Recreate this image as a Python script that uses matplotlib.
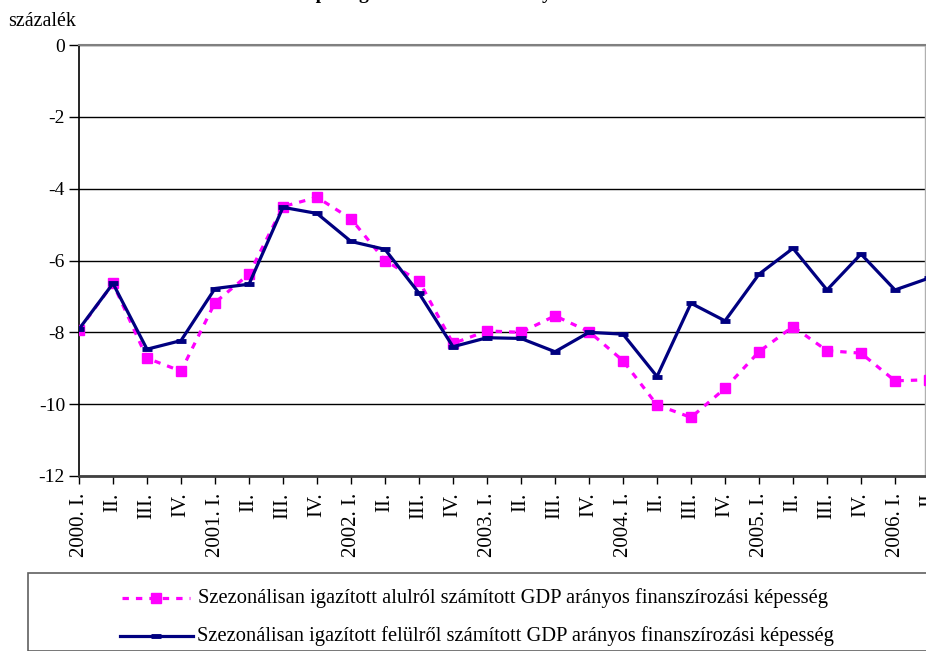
import matplotlib
matplotlib.use("Agg")
import matplotlib.pyplot as plt
from matplotlib.lines import Line2D
from matplotlib.patches import Rectangle

categories = ["2000. I.", "II.", "III.", "IV.",
              "2001. I.", "II.", "III.", "IV.",
              "2002. I.", "II.", "III.", "IV.",
              "2003. I.", "II.", "III.", "IV.",
              "2004. I.", "II.", "III.", "IV.",
              "2005. I.", "II.", "III.", "IV.",
              "2006. I.", "II."]

alulrol = [-7.93, -6.64, -8.72, -9.08, -7.17, -6.38, -4.50, -4.24,
           -4.84, -6.00, -6.57, -8.31, -7.96, -8.00, -7.54, -7.98,
           -8.79, -10.02, -10.37, -9.56, -8.54, -7.84, -8.51, -8.58,
           -9.35, -9.32]

felulrol = [-7.91, -6.64, -8.47, -8.23, -6.78, -6.66, -4.52, -4.69,
            -5.47, -5.69, -6.91, -8.40, -8.15, -8.17, -8.54, -8.00,
            -8.05, -9.23, -7.19, -7.68, -6.38, -5.66, -6.82, -5.82,
            -6.82, -6.49]

y_ticks = [0, -2, -4, -6, -8, -10, -12]

label_alul = "Szezonálisan igazított alulról számított GDP arányos finanszírozási képesség"
label_felul = "Szezonálisan igazított felülről számított GDP arányos finanszírozási képesség"
title = "A finanszírozási képesség alakulása GDP arányosan"

plt.rcParams['font.family'] = ['Liberation Serif', 'DejaVu Serif']

W, H = 926, 651
fig = plt.figure(figsize=(W / 100, H / 100), dpi=100)
ax = fig.add_axes([79 / W, 1 - 476 / H, 846 / W, 431 / H])

x = list(range(len(categories)))
ax.plot(x, alulrol, color='#FF00FF', lw=2.3, ls=(0, (2, 2.2)),
        marker='s', ms=6.5, mfc='#FF00FF', mec='#FF00FF', zorder=3)
ax.plot(x, felulrol, color='#000080', lw=2.3,
        marker='_', ms=7, mew=3.5, mec='#000080', zorder=4)

ax.set_xlim(0, 846 / 34)
ax.set_ylim(-12, 0)
ax.set_yticks(y_ticks)
ax.set_yticklabels([str(v) for v in y_ticks], fontsize=14)
ax.set_xticks(x[:-1])
ax.set_xticklabels(categories[:-1], rotation=90, fontsize=15)
ax.tick_params(axis='y', direction='out', length=7, width=1, pad=3, colors='black')
ax.tick_params(axis='x', direction='out', length=6, width=1, pad=6)
# label for the last (partly cut) category
ax.text(25, -12.32, categories[-1], rotation=90, fontsize=15, ha='center', va='top',
        transform=ax.transData, clip_on=False)

ax.grid(axis='y', color='black', lw=1)
ax.set_axisbelow(True)
ax.spines['left'].set_color('black')
ax.spines['left'].set_linewidth(1.2)
ax.spines['bottom'].set_color('#404040')
ax.spines['bottom'].set_linewidth(2)
ax.spines['top'].set_color('#808080')
ax.spines['top'].set_linewidth(1.5)
ax.spines['right'].set_color('#B0B0B0')
ax.spines['right'].set_linewidth(1)

fig.text(8 / W, 1 - 22 / H, "százalék", fontsize=14.4, ha='left', va='center')

# title (mostly above the visible area)
fig.text(374 / W, 1 + 1 / H, title, fontsize=14, fontweight='bold',
         ha='center', va='baseline')

# legend box
fig.add_artist(Rectangle((28 / W, 0), 1.0, 1 - 573 / H, transform=fig.transFigure,
                         fill=False, edgecolor='#606060', lw=1.2, clip_on=False))
ly1 = 1 - 598 / H
ly2 = 1 - 636 / H
fig.add_artist(Line2D([122 / W, 190 / W], [ly1, ly1], color='#FF00FF', lw=2.3,
                      ls=(0, (2, 2.2)), transform=fig.transFigure))
fig.add_artist(Line2D([156 / W], [ly1], color='#FF00FF', marker='s', ms=6.5,
                      transform=fig.transFigure))
fig.add_artist(Line2D([120 / W, 193 / W], [ly2, ly2], color='#000080', lw=2.3,
                      transform=fig.transFigure))
fig.add_artist(Line2D([156 / W], [ly2], color='#000080', marker='_', ms=7, mew=3.5,
                      transform=fig.transFigure))
fig.text(198 / W, ly1, label_alul, fontsize=14.8, ha='left', va='center')
fig.text(197 / W, ly2, label_felul, fontsize=14.8, ha='left', va='center')

fig.savefig("out.png", dpi=100)
